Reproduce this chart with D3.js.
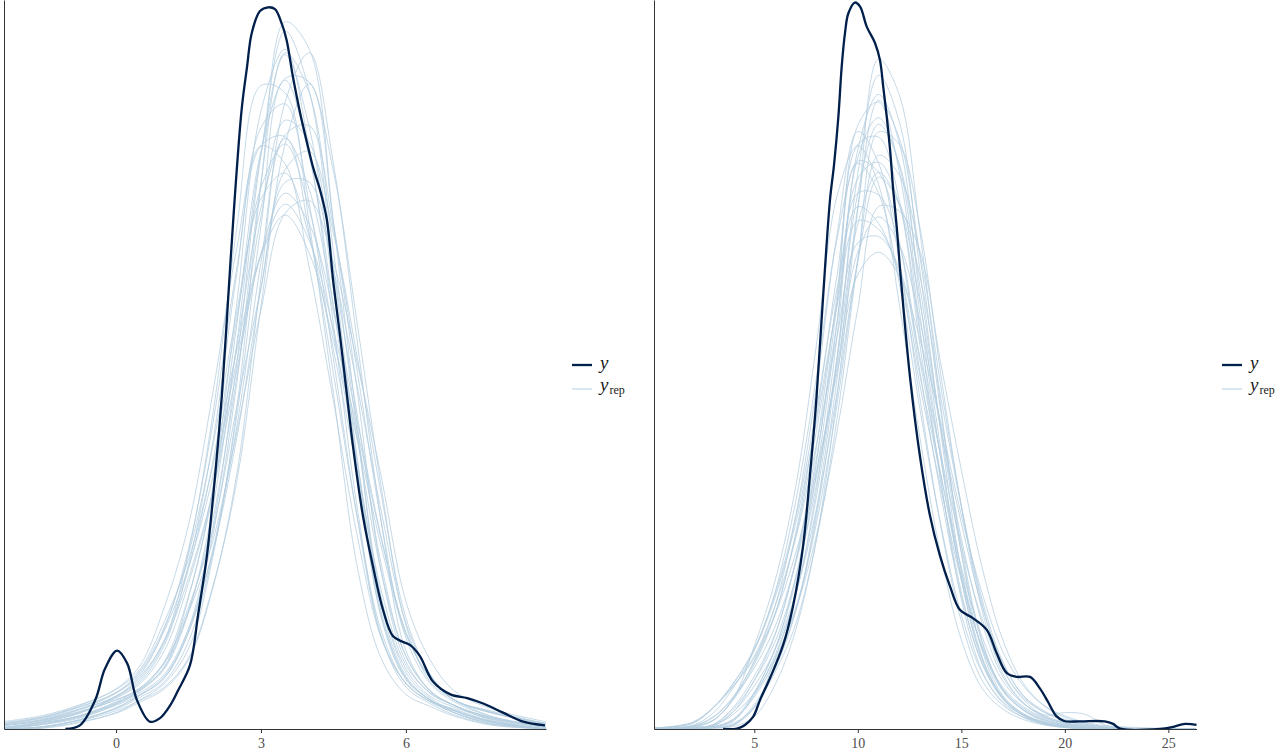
<!DOCTYPE html>
<html>
<head>
  <meta charset="utf-8">
  <script src="https://cdn.jsdelivr.net/npm/d3@7/dist/d3.min.js"></script>
  <style>
    body { margin: 0; background: #fff; }
    text { font-family: "Liberation Serif", "DejaVu Serif", serif; }
  </style>
</head>
<body>
<div id="chart"></div>
<script>
  // ---- left panel: observed density (y) and replicated densities (yrep) ----
  var leftGrid = [-2.3, -1.5, -0.75, 0, 0.5, 1, 1.5, 2, 2.5, 3, 3.5, 4, 4.5, 5, 5.5, 6, 6.5, 7, 7.75, 8.9];

  var leftYrep = [
    [0, .0005, .0035, .009, .016, .025, .044, .094, .176, .299, .388, .373, .278, .165, .067, .029, .016, .009, .003, 0],
    [0, .0025, .006, .0135, .021, .033, .064, .121, .212, .316, .370, .330, .241, .145, .063, .028, .016, .010, .004, 0],
    [.0007, .0036, .0074, .0145, .0214, .034, .065, .115, .193, .281, .334, .322, .252, .171, .089, .040, .021, .013, .006, .0006],
    [.002, .005, .0105, .018, .028, .049, .088, .146, .225, .297, .321, .285, .217, .145, .070, .033, .018, .012, .0057, .001],
    [.002, .0045, .009, .016, .022, .036, .067, .109, .177, .242, .300, .300, .252, .187, .118, .058, .030, .016, .010, .003],
    [.001, .004, .009, .0175, .026, .046, .090, .157, .250, .330, .343, .288, .203, .115, .050, .025, .015, .009, .0036, 0],
    [.003, .006, .011, .018, .029, .048, .083, .130, .197, .261, .294, .277, .229, .168, .104, .053, .028, .016, .0095, .003],
    [.0004, .003, .0074, .015, .0226, .037, .073, .129, .222, .317, .356, .314, .232, .140, .061, .028, .016, .0105, .004, 0],
    [.0004, .003, .0065, .013, .019, .029, .053, .098, .166, .256, .326, .331, .275, .195, .112, .050, .025, .015, .007, .001],
    [.003, .0064, .012, .020, .032, .056, .096, .155, .229, .291, .305, .270, .208, .141, .075, .035, .020, .013, .0064, .001],
    [0, .0014, .005, .0117, .0186, .028, .053, .106, .190, .300, .371, .349, .262, .161, .071, .031, .017, .010, .004, 0],
    [.002, .0048, .0095, .017, .025, .043, .080, .130, .210, .286, .324, .296, .232, .158, .085, .040, .021, .013, .0064, .001],
    [.001, .0036, .0071, .0138, .020, .030, .055, .097, .160, .242, .307, .317, .272, .203, .127, .061, .030, .016, .009, .0024],
    [.0022, .0054, .011, .0196, .030, .055, .099, .167, .253, .320, .325, .272, .195, .115, .053, .025, .0154, .011, .0044, 0],
    [0, .0007, .004, .0087, .0148, .022, .038, .077, .140, .247, .344, .371, .310, .211, .112, .043, .021, .013, .0055, 0],
    [.0036, .0068, .0123, .020, .031, .054, .089, .138, .202, .260, .288, .268, .219, .163, .103, .053, .028, .016, .0093, .003],
    [0, .0011, .0051, .0114, .0186, .028, .055, .110, .201, .315, .383, .350, .253, .147, .060, .027, .016, .0089, .003, 0],
    [.003, .0066, .0129, .022, .035, .067, .112, .184, .264, .320, .310, .253, .180, .105, .049, .025, .015, .010, .0045, 0],
    [0, .0013, .0047, .010, .0158, .023, .039, .078, .136, .232, .321, .354, .306, .221, .131, .057, .026, .016, .0072, .001],
    [.0042, .0075, .0133, .0217, .033, .059, .093, .144, .208, .260, .282, .261, .213, .158, .099, .052, .028, .016, .009, .003],
    [0, .0014, .0051, .011, .0174, .026, .048, .096, .172, .276, .357, .355, .278, .184, .085, .037, .0195, .013, .005, 0],
    [.0002, .0026, .0067, .0141, .0217, .034, .072, .132, .234, .339, .373, .318, .222, .120, .050, .023, .014, .0078, .0026, 0],
    [.0024, .0052, .0096, .016, .0226, .0365, .064, .103, .163, .230, .283, .290, .256, .200, .137, .070, .038, .021, .0113, .004],
    [.0008, .0041, .0086, .018, .027, .048, .097, .172, .275, .353, .349, .277, .184, .088, .038, .019, .0124, .0071, .0022, 0]
  ];

  var leftY = [
    [-1.05, 0], [-0.75, .002], [-0.43, .016], [-0.23, .033], [0.02, .043], [0.23, .036], [0.43, .016],
    [0.70, .004], [0.91, .006], [1.12, .013], [1.28, .021], [1.53, .035], [1.70, .063], [1.88, .095],
    [2.05, .139], [2.19, .183], [2.32, .236], [2.44, .285], [2.60, .340], [2.71, .363], [2.81, .382],
    [2.98, .394], [3.15, .396], [3.29, .395], [3.43, .387], [3.53, .378], [3.66, .358], [3.81, .338],
    [3.95, .322], [4.08, .308], [4.22, .296], [4.36, .280], [4.49, .247], [4.64, .215], [4.78, .183],
    [4.91, .154], [5.11, .117], [5.32, .089], [5.53, .065], [5.73, .051], [5.92, .048], [6.09, .046],
    [6.29, .040], [6.56, .026], [6.92, .019], [7.27, .017], [7.60, .014], [8.01, .009], [8.43, .004],
    [8.88, .002]
  ];

  var leftTicks = [0, 3, 6];

  // ---- right panel ----
  var rightGrid = [0.2, 2, 3, 4, 5, 6, 7, 8, 9, 10, 11, 12, 13, 14, 15, 16, 17, 18, 19, 20, 21, 22, 24, 26.3];

  var rightYrep = [
    [0, .0002, .0006, .0022, .0098, .022, .0416, .073, .117, .1656, .172, .153, .1097, .0686, .0356, .0159, .0071, .0032, .0013, .0004, .0001, 0, 0, 0],
    [0, .0003, .0006, .0025, .0093, .0203, .0368, .0637, .1023, .147, .1659, .1552, .1213, .0829, .0484, .0238, .0107, .0053, .0025, .0011, .0003, 0, 0, 0],
    [0, .0006, .0023, .0081, .0177, .0314, .0537, .0855, .1246, .1558, .1528, .1338, .098, .0646, .0366, .0182, .0087, .0042, .002, .0009, .0002, 0, 0, 0],
    [0, .0004, .001, .0048, .0118, .0217, .0373, .0603, .0922, .1284, .1514, .1442, .1242, .0912, .061, .0356, .0185, .009, .0046, .0023, .001, .0004, 0, 0],
    [0, .0005, .0023, .0085, .0188, .0337, .0585, .0935, .1358, .1639, .1553, .1287, .0907, .0558, .0296, .0134, .0065, .0032, .0014, .0005, .0001, 0, 0, 0],
    [.0002, .0008, .0033, .0087, .0168, .028, .0456, .0693, .0993, .1308, .1405, .1329, .112, .0828, .0565, .0337, .0183, .0092, .005, .0026, .0013, .0006, 0, 0],
    [0, .0008, .0031, .009, .0184, .0316, .0529, .0818, .1171, .147, .1465, .1332, .101, .0703, .0421, .0225, .011, .0057, .0028, .0013, .0006, .0002, 0, 0],
    [0, .0003, .0006, .0028, .0101, .0219, .0405, .0701, .1114, .1568, .1677, .1546, .1138, .0745, .0411, .0194, .0088, .0041, .0018, .0006, .0001, 0, 0, 0],
    [0, .0002, .0006, .0026, .0088, .0187, .0332, .0564, .0892, .1288, .1574, .152, .1304, .0944, .0613, .0343, .0168, .0081, .0039, .0045, .004, .001, 0, 0],
    [.0003, .0015, .0057, .0127, .0221, .0369, .0581, .0876, .1209, .1433, .1387, .1238, .0943, .0663, .0409, .0227, .0115, .0061, .0031, .0016, .0006, .0002, 0, 0],
    [0, 0, .0003, .001, .0058, .0164, .0322, .0598, .1014, .1524, .1793, .1667, .1258, .0817, .0434, .0199, .0086, .0036, .0015, .0005, .0001, 0, 0, 0],
    [0, .0004, .0012, .006, .0145, .026, .0458, .0743, .112, .151, .1555, .144, .1085, .0745, .0436, .0222, .0104, .0052, .0025, .0011, .0004, .0001, 0, 0],
    [0, .0004, .0009, .0041, .0098, .0194, .0328, .0531, .0817, .1154, .1433, .1421, .1311, .1005, .0711, .0444, .0245, .0125, .0064, .0032, .0016, .0006, 0, 0],
    [.0003, .0017, .0057, .012, .02, .0337, .0523, .078, .1077, .1334, .1351, .1265, .1021, .0754, .0504, .0303, .0165, .0085, .0046, .0025, .0012, .0005, .0001, 0],
    [0, 0, .0004, .0012, .0067, .0172, .0324, .0582, .0962, .1432, .1724, .1621, .1296, .0873, .0503, .0243, .0108, .0051, .0022, .0009, .0002, 0, 0, 0],
    [.0002, .001, .0043, .0115, .0216, .0375, .0625, .0964, .1346, .1552, .147, .1224, .0878, .0563, .0314, .0155, .0075, .0037, .0017, .0007, .0002, 0, 0, 0],
    [0, .0001, .0004, .0016, .006, .0194, .0367, .0656, .1078, .1589, .1741, .1609, .1182, .0768, .041, .0189, .0083, .0037, .0016, .0006, .0001, 0, 0, 0],
    [0, .0003, .0008, .0048, .0134, .0257, .0463, .0773, .1192, .1603, .1624, .1452, .1054, .0681, .0376, .0179, .0082, .0038, .0017, .0006, .0001, 0, 0, 0],
    [0, .0001, .0004, .0012, .0061, .0156, .0288, .0518, .0853, .1284, .1638, .1604, .1376, .0976, .0611, .0326, .0152, .0072, .0033, .0015, .0005, .0001, 0, 0],
    [.0003, .0016, .0058, .0126, .0217, .0361, .0565, .0844, .1162, .1394, .1371, .1253, .0969, .0698, .0444, .0254, .0132, .0069, .0037, .0018, .0009, .0004, 0, 0],
    [0, .0004, .0012, .0055, .0133, .0239, .0416, .0671, .1014, .1385, .1527, .1438, .117, .083, .0523, .0291, .0144, .0071, .0035, .0017, .0008, .0002, 0, 0],
    [.0001, .0008, .0024, .0085, .0228, .0406, .0665, .1054, .1463, .16, .1494, .1167, .0799, .0479, .0245, .0112, .0055, .0026, .0011, .0004, .0001, 0, 0, 0],
    [.0003, .0018, .0058, .0118, .0195, .0313, .0483, .0709, .0978, .1247, .1308, .1244, .107, .0844, .0586, .0373, .0213, .0118, .0064, .0036, .0018, .0009, .0003, 0],
    [0, 0, .0002, .0007, .0034, .0121, .0272, .052, .0916, .1428, .1838, .174, .1364, .089, .0483, .0216, .0092, .0041, .0016, .0006, .0001, 0, 0, 0]
  ];

  var rightY = [
    [3.49, 0], [4.16, .0001], [4.55, .0011], [4.94, .0033], [5.28, .008], [5.76, .014], [6.39, .023],
    [6.87, .0337], [7.35, .0499], [7.69, .0697], [8.01, .0914], [8.32, .1183], [8.66, .1454], [8.85, .1547],
    [9.06, .1679], [9.22, .1816], [9.38, .1909], [9.54, .1963], [9.86, .1993], [10.11, .1982], [10.43, .1927],
    [10.83, .1882], [11.07, .1835], [11.23, .1761], [11.40, .1679], [11.56, .1588], [11.71, .1479], [11.88, .1377],
    [12.04, .1262], [12.52, .0966], [13.0, .0749], [13.48, .0587], [13.96, .0477], [14.45, .0392], [14.93, .0327],
    [15.56, .0304], [16.23, .0272], [16.71, .0208], [17.19, .0154], [17.68, .0143], [18.32, .0143], [18.81, .011],
    [19.19, .0074], [19.58, .0036], [19.96, .0022], [20.73, .0021], [21.93, .0021], [22.33, .0014], [22.67, .0001],
    [24.6, 0], [25.18, .0005], [25.81, .0014], [26.36, .0011]
  ];

  var rightTicks = [5, 10, 15, 20, 25];

  var legendKeys = ['y', 'yrep'];

  var darkBlue = '#011f4b';
  var lightBlue = '#b3cde0';
  var baseY = 729;

  var svg = d3.select('#chart').append('svg')
      .attr('width', 1280)
      .attr('height', 750);

  function drawPanel(p) {
    var x = d3.scaleLinear()
        .domain(p.xDomain)
        .range([p.left, p.right]);
    var y = d3.scaleLinear()
        .domain([0, p.yMax])
        .range([baseY, 0]);

    var g = svg.append('g');

    g.append('clipPath')
        .attr('id', p.id)
      .append('rect')
        .attr('x', p.left)
        .attr('y', -5)
        .attr('width', p.right - p.left + 2)
        .attr('height', baseY + 5);

    var line = d3.line()
        .x(function(d) { return x(d[0]); })
        .y(function(d) { return y(d[1]); })
        .curve(d3.curveCatmullRom.alpha(0.5));

    var curves = g.append('g')
        .attr('clip-path', 'url(#' + p.id + ')');

    curves.selectAll('path.rep')
        .data(p.yrep)
      .enter().append('path')
        .attr('class', 'rep')
        .attr('d', function(vals) {
          return line(p.grid.map(function(gx, i) { return [gx, vals[i]]; }));
        })
        .attr('fill', 'none')
        .attr('stroke', lightBlue)
        .attr('stroke-width', 0.9)
        .attr('stroke-opacity', 0.85);

    curves.append('path')
        .attr('d', line(p.y))
        .attr('fill', 'none')
        .attr('stroke', darkBlue)
        .attr('stroke-width', 2.3)
        .attr('stroke-linejoin', 'round');

    var xAxis = g.append('g')
        .attr('transform', 'translate(0,' + baseY + ')')
        .call(d3.axisBottom(x)
            .tickValues(p.ticks)
            .tickSize(4)
            .tickSizeOuter(0)
            .tickPadding(5));

    var yAxis = g.append('g')
        .attr('transform', 'translate(' + p.left + ',0)')
        .call(d3.axisLeft(y).tickValues([]).tickSizeOuter(0));

    [xAxis, yAxis].forEach(function(ax) {
      ax.select('.domain').attr('stroke', '#333').attr('stroke-width', 1);
      ax.selectAll('.tick line').attr('stroke', '#333');
      ax.selectAll('.tick text')
          .attr('fill', '#4d4d4d')
          .style('font-family', '"Liberation Serif", serif')
          .style('font-size', '14px');
    });

    // legend
    var lx = p.left + 568;
    var leg = g.append('g');
    legendKeys.forEach(function(k, i) {
      var ly = i === 0 ? 365 : 389;
      leg.append('line')
          .attr('x1', lx)
          .attr('x2', lx + 20)
          .attr('y1', ly)
          .attr('y2', ly)
          .attr('stroke', i === 0 ? darkBlue : lightBlue)
          .attr('stroke-width', i === 0 ? 2.3 : 1);
      var t = leg.append('text')
          .attr('x', lx + 28)
          .attr('y', i === 0 ? 369 : 391)
          .attr('fill', '#1a1a1a')
          .style('font-size', '19px');
      t.append('tspan')
          .style('font-style', 'italic')
          .text('y');
      if (k === 'yrep') {
        t.append('tspan')
            .attr('dy', 3)
            .attr('dx', 1)
            .style('font-size', '12px')
            .text('rep');
      }
    });
  }

  drawPanel({
    id: 'clipLeft',
    left: 4,
    right: 546,
    xDomain: [-2.32, 8.9],
    yMax: 0.40,
    grid: leftGrid,
    yrep: leftYrep,
    y: leftY,
    ticks: leftTicks
  });

  drawPanel({
    id: 'clipRight',
    left: 654,
    right: 1196.5,
    xDomain: [0.155, 26.36],
    yMax: 0.20,
    grid: rightGrid,
    yrep: rightYrep,
    y: rightY,
    ticks: rightTicks
  });
</script>
</body>
</html>
